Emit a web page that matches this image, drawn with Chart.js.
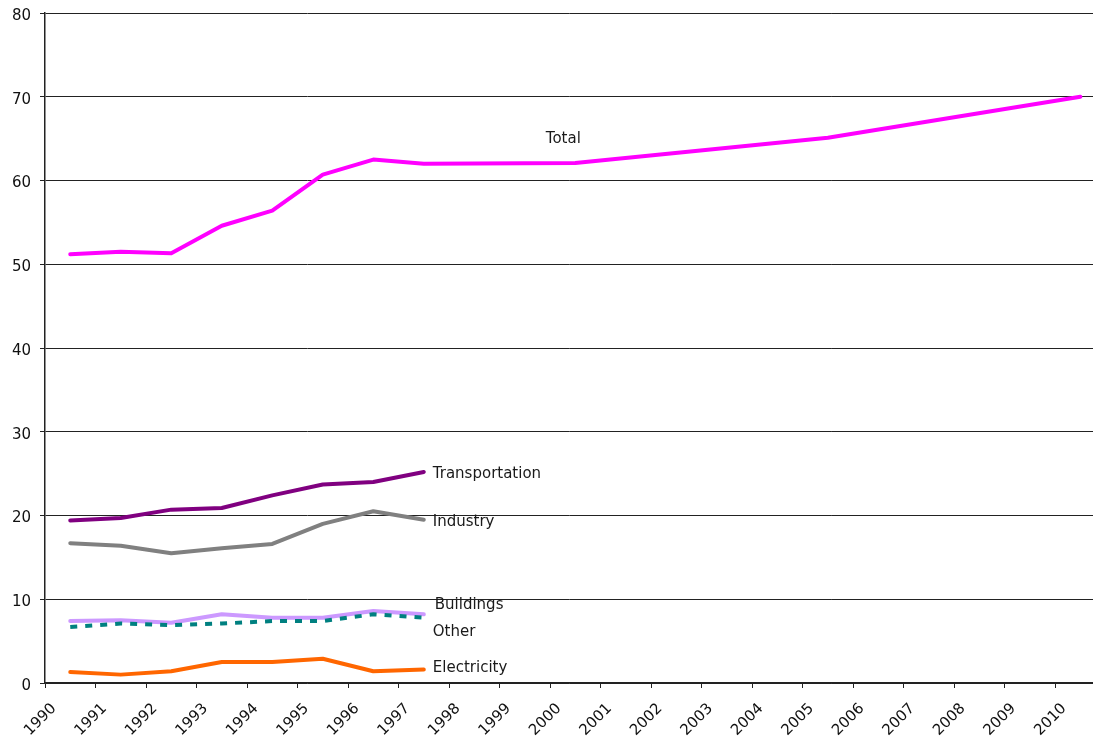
<!DOCTYPE html>
<html>
<head>
<meta charset="utf-8">
<title>Emissions by sector</title>
<script src="https://cdn.jsdelivr.net/npm/chart.js@4.4.0/dist/chart.umd.min.js"></script>
<style>
  html, body { margin: 0; padding: 0; background: #fff; }
  canvas { display: block; }
</style>
</head>
<body>
<canvas id="lineChart" width="1093" height="738"></canvas>
<script>
// tick labels on the x axis (one per year)
const years = [1990, 1991, 1992, 1993, 1994, 1995, 1996, 1997, 1998, 1999, 2000,
               2001, 2002, 2003, 2004, 2005, 2006, 2007, 2008, 2009, 2010];

// series values (null = no point that year)
const total = [51.2, 51.5, 51.3, 54.6, 56.4, 60.7, 62.5, 62.0, null, null, 62.1,
               null, null, null, null, 65.1, null, null, null, null, 70.0];
const transportation = [19.4, 19.7, 20.7, 20.9, 22.4, 23.7, 24.0, 25.2];
const industry = [16.7, 16.4, 15.5, 16.1, 16.6, 19.0, 20.5, 19.5];
const buildings = [7.4, 7.5, 7.2, 8.2, 7.8, 7.8, 8.6, 8.2];
const other = [6.7, 7.1, 6.9, 7.1, 7.4, 7.4, 8.2, 7.8];
const electricity = [1.3, 1.0, 1.4, 2.5, 2.5, 2.9, 1.4, 1.6];

const FONT = 'DejaVu Sans';

// each year sits in the middle of its slot on the x axis
function toPoints(values) {
    return values.map((v, i) => ({ x: i + 0.5, y: v }));
}

function series(label, values, color, extra) {
    return Object.assign({
        label: label,
        data: toPoints(values),
        borderColor: color,
        backgroundColor: color,
        borderWidth: 4,
        pointRadius: 0,
        pointHoverRadius: 0,
        tension: 0,
        spanGaps: true,
        borderCapStyle: 'round',
        borderJoinStyle: 'round',
        fill: false
    }, extra || {});
}

// where the series names go, relative to a point of the series (pixels)
const nameStyle = {
    'Total':          { index: 10, dx: -12, dy: -24, align: 'center' },
    'Transportation': { index: 7, dx: 9, dy: 2, align: 'left' },
    'Industry':       { index: 7, dx: 9, dy: 2, align: 'left' },
    'Buildings':      { index: 7, dx: 11, dy: -9, align: 'left' },
    'Other':          { index: 7, dx: 9, dy: 14, align: 'left' },
    'Electricity':    { index: 7, dx: 9, dy: -1, align: 'left' }
};

// draws the series names next to the lines
const seriesNames = {
    id: 'seriesNames',
    afterDatasetsDraw(chart) {
        const ctx = chart.ctx;
        ctx.save();
        ctx.font = '15px "' + FONT + '"';
        ctx.fillStyle = '#1a1a1a';
        ctx.textBaseline = 'middle';
        chart.data.datasets.forEach((ds, i) => {
            const style = nameStyle[ds.label];
            if (!style) return;
            const pt = chart.getDatasetMeta(i).data[style.index];
            if (!pt) return;
            ctx.textAlign = style.align;
            ctx.fillText(ds.label, pt.x + style.dx, pt.y + style.dy);
        });
        ctx.restore();
    }
};

const ctx = document.getElementById('lineChart').getContext('2d');
new Chart(ctx, {
    type: 'line',
    data: {
        datasets: [
            series('Total', total, '#ff00ff'),
            series('Transportation', transportation, '#800080'),
            series('Industry', industry, '#808080'),
            series('Other', other, '#008080', { borderDash: [7, 8], borderCapStyle: 'butt' }),
            series('Buildings', buildings, '#cc99ff'),
            series('Electricity', electricity, '#ff6600')
        ]
    },
    options: {
        responsive: false,
        animation: false,
        devicePixelRatio: 1,
        layout: { padding: { top: 13, right: 0, left: 0, bottom: 0 } },
        plugins: {
            legend: { display: false },
            tooltip: { enabled: false }
        },
        scales: {
            x: {
                type: 'linear',
                min: 0,
                max: 20.75,
                afterBuildTicks(scale) {
                    scale.ticks = years.map((y, i) => ({ value: i }));
                },
                afterFit(scale) {
                    scale.height = 55;
                    scale.paddingLeft = 0;
                    scale.paddingRight = 0;
                },
                border: { display: true, color: '#222', width: 1.5 },
                grid: {
                    drawOnChartArea: false,
                    drawTicks: true,
                    tickLength: 5,
                    color: '#222'
                },
                ticks: {
                    autoSkip: false,
                    maxRotation: 45,
                    minRotation: 45,
                    labelOffset: 9,
                    padding: 12,
                    color: '#111',
                    font: { family: FONT, size: 15 },
                    callback: (value) => years[value]
                }
            },
            y: {
                min: 0,
                max: 80,
                afterFit(scale) {
                    scale.width = 45;
                    scale.paddingTop = 0;
                    scale.paddingBottom = 0;
                },
                border: { display: true, color: '#222', width: 1.5 },
                grid: {
                    color: '#222',
                    lineWidth: 1,
                    tickLength: 5
                },
                ticks: {
                    stepSize: 10,
                    padding: 9,
                    labelOffset: 3,
                    color: '#111',
                    font: { family: FONT, size: 15 }
                }
            }
        }
    },
    plugins: [seriesNames]
});
</script>
</body>
</html>
